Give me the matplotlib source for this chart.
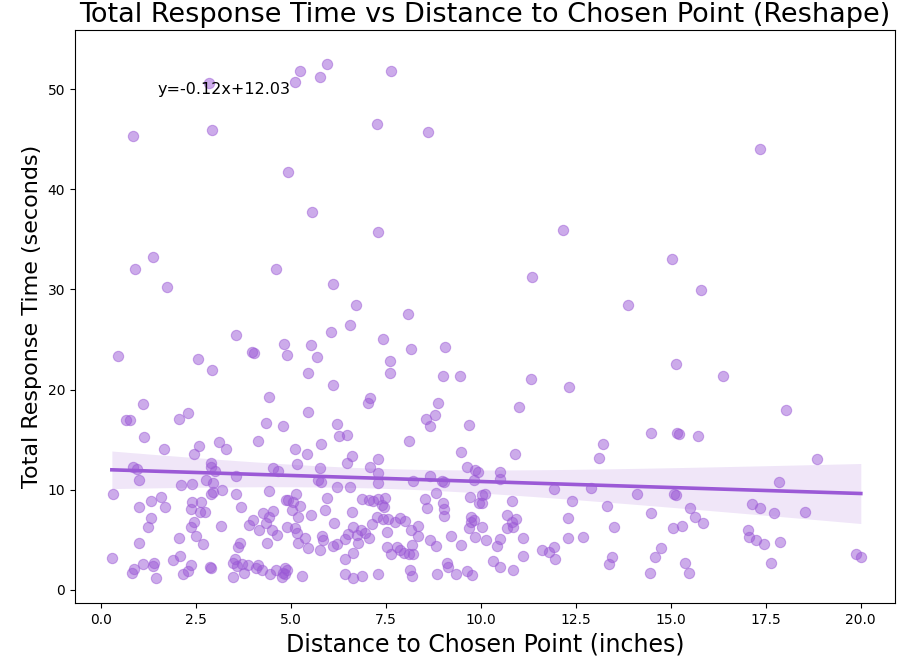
import numpy as np
import matplotlib
matplotlib.use("Agg")
import matplotlib.pyplot as plt

# Distance to the chosen point (inches) and total response time (seconds)
distance = [
    2.85, 0.84, 2.92, 4.92, 5.10, 5.24, 5.76, 5.95, 7.63, 7.26, 8.60, 5.55, 7.29, 12.16, 17.34,
    1.37, 0.89, 1.74, 4.60, 3.55, 3.98, 4.02, 4.82, 4.90, 0.45, 2.55, 2.92, 4.42, 1.10, 2.29,
    2.05, 0.66, 0.76, 4.34, 4.79,
    6.10, 6.71, 8.08, 6.55, 6.05, 7.42, 5.53, 5.68, 7.60, 8.16, 9.05, 5.45, 7.60, 9.00, 9.45,
    6.10, 7.08, 7.03, 8.87, 5.45, 8.55, 8.79, 6.21, 9.68, 8.66,
    15.03, 11.34, 13.87, 15.13, 11.32, 12.32, 11.00, 15.79, 16.37, 18.03,
    1.13, 1.66, 2.58, 2.45, 3.10, 3.29, 4.13, 0.84, 0.95, 1.00, 2.89, 2.89, 3.00, 2.76, 2.95,
    3.55, 4.53, 4.66, 2.11, 2.39, 3.18, 2.89, 2.95, 4.42, 0.32, 3.55, 4.87, 1.32, 1.58, 1.00,
    1.68, 2.39, 2.63, 2.37, 2.61, 2.74, 3.68, 1.32, 1.24, 2.45, 2.37, 3.16, 3.89, 4.00, 4.26,
    4.53, 4.42, 4.34, 4.50, 4.16, 4.63, 4.90, 2.50, 2.05, 1.00, 2.68, 3.66, 3.60, 4.37, 0.29,
    2.08, 1.89, 3.53, 1.10, 0.87, 0.82, 1.39, 1.37, 2.37, 2.29, 2.16, 1.45, 2.87, 2.90, 3.47,
    3.58, 3.71, 3.87, 4.13, 4.08, 4.24, 3.76, 3.47, 4.45, 4.61, 4.79, 4.84, 4.76,
    6.26, 6.47, 5.10, 5.42, 5.79, 8.10, 9.47, 5.16, 5.76, 6.60, 6.47, 7.29, 7.08, 7.29, 7.29,
    5.71, 5.79, 6.21, 6.55, 8.21, 8.66, 8.97, 9.03, 9.63, 9.84, 9.92, 9.82, 4.92, 5.13, 5.05,
    5.24, 5.03, 5.18, 5.53, 5.95, 5.89, 6.60, 6.87, 7.05, 7.16, 7.29, 7.47, 7.39, 7.45, 8.82,
    8.53, 8.58, 9.00, 9.03, 9.03, 9.71, 9.95, 10.03, 6.13, 6.63, 7.13, 7.26, 7.42, 7.55, 7.74,
    7.87, 8.00, 8.16, 8.34, 7.53, 8.34, 5.10, 5.16, 5.37, 5.18, 5.45, 5.82, 5.84, 5.76, 6.10,
    6.21, 6.42, 6.50, 6.74, 6.84, 6.95, 7.05, 6.76, 6.63, 6.42, 7.53, 7.63, 7.79, 7.87, 7.97,
    8.10, 8.21, 8.18, 8.66, 8.82, 9.21, 9.47, 9.74, 9.74, 9.82, 9.68, 9.84, 4.89, 4.84, 5.29,
    6.42, 6.63, 6.87, 7.29, 8.13, 8.18, 8.84, 9.10, 9.13, 9.34, 9.63, 9.76,
    14.47, 15.16, 13.21, 13.10, 10.89, 10.50, 10.50, 11.92, 12.89, 14.10, 15.08, 10.10, 10.03,
    10.82, 12.39, 13.32, 14.47, 10.68, 10.92, 10.82, 10.84, 10.68, 12.29, 10.03, 13.50, 15.05,
    10.13, 10.50, 10.42, 11.10, 12.29, 12.68, 11.60, 11.79, 11.92, 11.95, 11.10, 10.32, 10.50,
    10.84, 13.45, 13.37, 14.74, 14.58, 14.45,
    15.21, 15.71, 18.84, 17.84, 15.13, 17.13, 17.34, 17.71, 18.53, 15.50, 15.63, 15.84, 15.29,
    17.03, 17.05, 17.24, 17.45, 17.87, 19.87, 20.00, 15.37, 15.47, 17.63,
]
response_time = [
    50.6, 45.3, 45.9, 41.7, 50.7, 51.8, 51.2, 52.5, 51.8, 46.5, 45.7, 37.7, 35.7, 35.9, 44.0,
    33.2, 32.0, 30.2, 32.0, 25.5, 23.8, 23.65, 24.6, 23.5, 23.35, 23.05, 21.95, 19.3, 18.6, 17.7,
    17.05, 17.0, 17.0, 16.7, 16.4,
    30.5, 28.4, 27.5, 26.5, 25.8, 25.1, 24.5, 23.3, 22.9, 24.1, 24.3, 21.65, 21.65, 21.4, 21.4,
    20.45, 19.2, 18.7, 18.7, 17.8, 17.05, 17.45, 16.55, 16.45, 16.4,
    33.0, 31.2, 28.4, 22.55, 21.05, 20.25, 18.25, 29.9, 21.35, 17.95,
    15.3, 14.1, 14.4, 13.6, 14.8, 14.1, 14.9, 12.3, 12.05, 11.0, 12.7, 12.3, 11.9, 11.0, 10.7,
    11.4, 12.2, 11.9, 10.5, 10.6, 10.0, 9.6, 9.8, 9.9, 9.6, 9.6, 9.0, 8.9, 9.3, 8.3,
    8.3, 8.8, 8.8, 8.1, 7.8, 7.8, 8.3, 7.2, 6.3, 6.8, 6.3, 6.4, 6.5, 7.0, 7.7,
    7.9, 7.3, 6.7, 6.0, 6.0, 5.5, 6.3, 5.4, 5.2, 4.7, 4.6, 4.7, 4.3, 4.7, 3.2,
    3.4, 3.0, 3.1, 2.6, 2.1, 1.7, 2.7, 2.4, 2.5, 1.9, 1.6, 1.2, 2.3, 2.2, 2.7,
    2.4, 2.6, 2.5, 2.5, 2.2, 2.0, 1.7, 1.3, 1.6, 2.0, 1.7, 2.2, 1.3,
    15.4, 15.5, 14.1, 13.6, 14.6, 14.9, 13.8, 12.6, 12.2, 13.4, 12.7, 13.1, 12.3, 11.7, 10.7,
    11.0, 10.8, 10.3, 10.3, 10.9, 11.4, 10.9, 10.8, 12.3, 12.0, 11.8, 11.0, 9.0, 9.6, 8.8,
    8.4, 8.0, 7.3, 7.5, 9.2, 8.0, 7.8, 9.1, 9.0, 8.9, 9.1, 9.2, 8.5, 8.3, 9.7,
    9.1, 8.2, 8.7, 8.1, 7.4, 9.3, 8.7, 9.5, 6.7, 6.3, 6.6, 7.3, 7.1, 7.1, 6.8,
    7.2, 6.9, 6.0, 6.4, 5.8, 5.4, 6.2, 5.7, 5.2, 4.7, 4.2, 5.4, 5.0, 4.0, 4.4,
    4.6, 5.1, 5.6, 5.5, 6.0, 5.7, 5.2, 4.7, 3.7, 3.1, 4.3, 3.6, 4.3, 4.0, 3.7,
    3.6, 3.6, 4.5, 5.0, 4.4, 5.4, 4.5, 7.3, 6.8, 7.0, 6.2, 5.3, 2.0, 1.6, 1.4,
    1.6, 1.2, 1.4, 1.6, 2.0, 1.4, 1.6, 2.7, 2.3, 1.6, 1.9, 1.5,
    15.7, 15.7, 14.6, 13.2, 13.6, 11.8, 11.1, 10.1, 10.2, 9.6, 9.6, 9.6, 8.7,
    8.9, 8.9, 8.4, 7.7, 7.5, 7.1, 6.8, 6.3, 6.2, 7.2, 6.3, 6.3, 6.2,
    5.0, 5.1, 4.4, 5.2, 5.2, 5.3, 4.0, 3.8, 4.3, 3.1, 3.4, 2.9, 2.3,
    2.0, 3.3, 2.6, 4.2, 3.3, 1.7,
    15.6, 15.4, 13.1, 10.8, 9.5, 8.6, 8.2, 7.7, 7.8, 8.2, 7.3, 6.7, 6.4,
    6.0, 5.3, 5.0, 4.6, 4.8, 3.6, 3.3, 2.7, 1.7, 2.7,
]

# Fitted regression line
slope = -0.12
intercept = 12.03

color = "#9b59d6"

x = np.asarray(distance)
y = np.asarray(response_time)

fig = plt.figure(figsize=(9.16, 6.64), dpi=100)
ax = fig.add_axes([75 / 916, 1 - 603 / 664, 820 / 916, 573 / 664])

ax.scatter(x, y, s=55, color=color, alpha=0.5, linewidths=0.8, edgecolors=color)

# 95% confidence band for the mean prediction
xs = np.linspace(x.min(), x.max(), 200)
fit = intercept + slope * xs
n = len(x)
resid = y - (intercept + slope * x)
s_err = np.sqrt(np.sum(resid ** 2) / (n - 2))
sxx = np.sum((x - x.mean()) ** 2)
half = 1.8 * s_err * np.sqrt(1 / n + (xs - x.mean()) ** 2 / sxx)
ax.fill_between(xs, fit - half, fit + half, color=color, alpha=0.15, linewidth=0)
ax.plot(xs, fit, color=color, lw=2.6)

ax.text(1.5, 50, f"y={slope:.2f}x+{intercept:.2f}", ha="left", va="center", fontsize=11.5)

ax.set_xlim(-0.68, 20.9)
ax.set_ylim(-1.3, 55.9)
ax.set_title("Total Response Time vs Distance to Chosen Point (Reshape)", fontsize=19.5)
ax.set_xlabel("Distance to Chosen Point (inches)", fontsize=17)
ax.set_ylabel("Total Response Time (seconds)", fontsize=16)

fig.savefig("out.png", dpi=100)
